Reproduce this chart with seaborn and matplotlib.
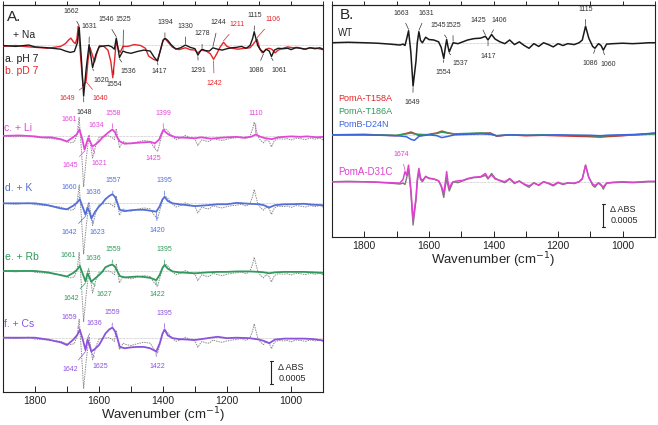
import numpy as np
import pandas as pd
import seaborn as sns
import matplotlib.pyplot as plt
from matplotlib.ticker import MultipleLocator

# ---- data (delta absorbance in units of 1e-4) ----
na_wn = [1900, 1860, 1820, 1800, 1760, 1720, 1705, 1690, 1677, 1668, 1662, 1655, 1648, 1640,
         1631, 1625, 1620, 1610, 1600, 1585, 1570, 1560, 1552, 1546, 1541, 1536, 1530, 1525,
         1515, 1500, 1480, 1460, 1440, 1428, 1417, 1408, 1400, 1394, 1385, 1375, 1360, 1345,
         1330, 1315, 1300, 1291, 1284, 1278, 1268, 1255, 1244, 1230, 1215, 1200, 1185, 1170,
         1155, 1140, 1128, 1120, 1115, 1110, 1104, 1096, 1086, 1078, 1068, 1061, 1052, 1040,
         1025, 1010, 1000, 985, 970, 955, 940, 925, 910, 900]
na_ph7 = [0.0, -0.2, 0.1, -0.3, -0.5, -0.8, -1.2, -1.5, -1.3, 0.5, 4.0, -3.0, -11.0, -5.0,
          0.2, -2.5, -4.8, -2.0, -0.3, -0.1, 0.0, -0.3, -0.8, 1.6, -0.5, -2.6, -1.8, -1.2,
          -1.5, -1.7, -1.3, -1.0, -1.2, -2.5, -3.4, -1.0, 1.0, 1.6, 1.1, 0.2, -0.8, -0.5,
          0.1, -0.4, -0.7, -2.1, -1.3, -0.8, -1.1, -1.2, -0.5, -0.8, -1.0, -0.7, -0.5, -0.4,
          -0.2, -0.6, 0.0, 1.5, 3.0, 1.6, 0.0, -0.9, -1.5, -0.8, -1.2, -2.4, -1.0, -0.6,
          -0.7, -0.6, -0.9, -0.5, -0.6, -0.8, -0.5, -0.7, -0.5, -0.8]

pd_wn = [1900, 1860, 1820, 1800, 1760, 1720, 1705, 1695, 1688, 1680, 1674, 1669, 1665, 1658,
         1650, 1644, 1640, 1634, 1628, 1621, 1614, 1606, 1598, 1585, 1572, 1563, 1557, 1551,
         1546, 1540, 1534, 1525, 1510, 1490, 1470, 1455, 1445, 1430, 1418, 1408, 1400, 1394,
         1385, 1370, 1350, 1330, 1315, 1300, 1291, 1280, 1265, 1252, 1242, 1232, 1222, 1211,
         1200, 1185, 1165, 1145, 1128, 1118, 1106, 1098, 1090, 1080, 1070, 1060, 1050, 1040,
         1025, 1010, 995, 980, 960, 940, 920, 900]
pd_7 = [-0.2, 0.0, -0.3, -0.4, -0.6, -0.2, 0.4, 1.2, 1.6, 0.8, 0.4, 1.5, 4.2, -2.0,
        -8.8, -8.3, -7.6, -3.0, -0.5, -2.0, -3.6, -1.5, 0.0, -0.2, -1.0, -3.5, -7.0, -3.0,
        1.2, -0.8, -1.5, -0.2, -0.2, 0.2, 0.0, -0.6, -2.3, -3.0, -3.3, -1.0, 1.2, 1.5,
        0.8, -0.4, -0.9, -0.5, -0.9, -1.0, -1.6, -1.0, -1.2, -1.8, -3.0, -1.8, -0.4, 0.7,
        -0.2, -0.6, -0.8, -0.6, -0.5, 0.3, 1.4, -0.6, -1.6, -1.0, -0.6, -0.8, -1.6, -1.0,
        -0.6, -0.3, -0.5, -0.4, -0.8, -0.5, -0.6, -0.9]

li_wn = [1900, 1850, 1800, 1780, 1750, 1720, 1700, 1685, 1670, 1661, 1653, 1645, 1640, 1634,
         1628, 1621, 1610, 1600, 1590, 1580, 1570, 1558, 1550, 1543, 1535, 1520, 1500, 1480,
         1460, 1440, 1425, 1412, 1405, 1399, 1390, 1380, 1360, 1330, 1300, 1280, 1250, 1220,
         1200, 1170, 1150, 1125, 1110, 1095, 1080, 1060, 1040, 1000, 970, 950, 920, 900]
li = [0.0, 0.1, -0.1, -0.3, -0.3, -0.7, -1.2, -0.5, 0.3, 1.4, -0.5, -3.0, -1.8, -0.5,
      -1.2, -2.3, -1.8, -1.2, -0.4, 0.2, 0.8, 1.4, 0.8, -0.3, -1.2, -1.7, -1.6, -1.5,
      -1.4, -1.3, -1.6, -0.8, 0.4, 1.3, 0.7, 0.2, -0.3, -0.4, -0.5, -0.3, -0.6, -0.4,
      -0.3, -0.2, -0.4, -0.2, 0.3, -0.2, -0.5, -0.7, -0.3, -0.1, -0.2, -0.1, -0.3, -0.2]

alk_wn = [1900, 1850, 1800, 1760, 1720, 1700, 1680, 1668, 1660, 1651, 1642, 1636, 1630, 1624,
          1612, 1600, 1590, 1580, 1568, 1558, 1550, 1543, 1535, 1520, 1500, 1480, 1460, 1440,
          1421, 1410, 1402, 1395, 1385, 1370, 1350, 1300, 1260, 1230, 1200, 1170, 1130, 1100,
          1085, 1068, 1050, 1020, 1000, 960, 930, 900]
k = [0.0, 0.0, 0.0, -0.4, -1.1, -1.3, -0.5, 0.2, 0.9, -0.8, -2.5, -0.9, -1.8, -3.3,
     -1.8, -0.7, 0.0, 0.9, 1.6, 2.0, 1.4, 0.2, -1.4, -1.7, -1.5, -1.4, -1.4, -1.6,
     -1.8, -0.6, 0.8, 1.4, 0.5, 0.0, -0.2, -0.6, -0.4, -0.2, -0.2, 0.1, -0.1, -0.2,
     -0.4, -0.9, -0.4, -0.2, -0.2, -0.1, -0.3, -0.4]
rb = [0.0, 0.0, 0.0, -0.3, -0.9, -1.2, -0.4, 0.3, 1.1, -0.6, -2.3, -0.5, -1.4, -2.3,
      -1.6, -0.9, -0.2, 0.8, 1.2, 1.4, 0.9, 0.0, -1.1, -1.4, -1.3, -1.2, -1.3, -1.5,
      -2.0, -0.8, 0.6, 1.3, 0.5, -0.1, -0.3, -0.5, -0.3, -0.2, -0.2, -0.1, -0.1, -0.2,
      -0.3, -0.5, -0.3, -0.2, -0.2, -0.2, -0.3, -0.4]
cs = [0.0, 0.0, 0.0, -0.4, -1.0, -1.6, -0.4, 0.6, 1.7, -0.3, -2.7, -0.4, -1.6, -3.0,
      -2.4, -1.6, -0.4, 0.9, 1.8, 2.2, 1.4, 0.0, -2.0, -2.3, -2.1, -2.0, -2.0, -2.3,
      -3.0, -1.2, 0.8, 1.8, 0.5, -0.1, -0.3, -0.5, -0.1, 0.2, -0.1, 0.0, -0.1, -0.4,
      -0.7, -1.2, -0.4, -0.2, -0.2, -0.2, -0.3, -0.6]

b_wn = [1900, 1850, 1800, 1760, 1720, 1690, 1680, 1674, 1669, 1663, 1656, 1649, 1640, 1636,
        1631, 1626, 1620, 1610, 1600, 1585, 1570, 1562, 1554, 1549, 1545, 1541, 1537, 1530,
        1525, 1510, 1495, 1480, 1460, 1440, 1425, 1417, 1406, 1395, 1380, 1365, 1350, 1335,
        1320, 1305, 1290, 1275, 1260, 1245, 1230, 1215, 1200, 1185, 1170, 1150, 1135, 1125,
        1115, 1105, 1093, 1086, 1075, 1067, 1060, 1050, 1030, 1000, 970, 940, 920, 900]
wt = [0.0, 0.1, 0.0, -0.1, -0.3, -0.5, -0.3, -0.6, 0.8, 2.6, -2.0, -9.4, -4.0, 0.0,
      2.4, 0.5, 0.0, 1.2, 0.7, 0.6, 0.2, -1.0, -3.4, -1.0, 0.7, -0.8, -2.0, -0.8,
      0.0, -0.2, 0.2, 0.6, 0.9, 1.0, 1.4, 0.6, 1.8, 0.8, 0.2, -0.2, 0.6, -0.4,
      0.2, -0.6, -1.2, -0.2, -0.8, 0.0, -0.4, -0.9, -0.2, -0.6, -0.2, -0.4, 0.0, 0.6,
      3.6, 1.0, -0.8, -1.2, -0.2, -0.6, -1.6, -0.3, -0.2, -0.1, -0.2, -0.1, 0.0, 0.0]
d31c = [0.0, 0.0, 0.0, -0.1, -0.2, -0.3, 0.5, 2.2, 1.4, 3.6, -1.5, -8.3, -3.5, 0.5,
        2.9, 0.8, 0.3, 1.1, 0.8, 0.6, 0.2, -0.8, -2.5, 0.0, 2.2, 0.0, -1.4, -0.4,
        0.0, 0.2, 0.3, 0.7, 1.0, 1.1, 1.8, 0.8, 1.5, 0.6, 0.3, 0.0, 0.7, -0.2,
        0.1, -0.5, -0.9, -0.3, -0.7, 0.0, -0.3, -0.7, -0.1, -0.5, -0.3, -0.3, 0.0, 0.7,
        3.6, 0.9, -0.5, -0.8, -0.3, -0.8, -1.1, -0.3, -0.1, 0.0, -0.1, 0.0, 0.1, 0.1]

mut_wn = [1900, 1800, 1700, 1670, 1655, 1645, 1630, 1600, 1575, 1560, 1545, 1520, 1480, 1440,
          1410, 1390, 1350, 1300, 1250, 1200, 1150, 1100, 1070, 1050, 1000, 950, 900]
t158a = [0.0, 0.1, -0.2, 0.3, 0.6, 0.3, -0.2, 0.1, 0.4, 0.8, 0.5, 0.1, 0.2, 0.3,
         0.4, -0.3, 0.0, -0.2, -0.1, -0.2, -0.3, -0.4, -0.5, -0.4, -0.2, 0.1, 0.3]
t186a = [0.0, 0.0, -0.1, 0.2, 0.4, 0.2, 0.1, 0.0, 0.3, 0.6, 0.4, 0.2, 0.3, 0.4,
         0.3, -0.2, 0.0, -0.1, 0.0, -0.1, -0.1, -0.2, -0.3, -0.2, -0.1, 0.0, 0.2]
d24n = [0.0, 0.0, -0.2, -0.4, -1.0, -1.2, -0.3, 0.0, -0.2, -0.6, -0.4, 0.0, 0.1, 0.2,
        0.1, -0.2, 0.0, -0.1, -0.1, 0.0, -0.1, -0.1, -0.2, -0.1, 0.0, 0.1, 0.4]

BLACK, RED = "#1a1a1a", "#e3262b"
MAG, BLUE, GREEN, PURPLE = "#e347d8", "#5470d8", "#2f9a5c", "#8c52dc"

sns.set_theme(style="white")
plt.rcParams["font.family"] = ["Liberation Sans", "DejaVu Sans"]


def trace(ax, wn, vals, base, color, lw=1.0, ls="-", z=3):
    df = pd.DataFrame({"wn": wn, "dA": np.asarray(vals) + base})
    sns.lineplot(data=df, x="wn", y="dA", ax=ax, color=color, lw=lw,
                 linestyle=ls, zorder=z, legend=False, errorbar=None)


def label(ax, peak, wn, vals, base, tx, ty, color):
    order = np.argsort(wn)
    yv = base + np.interp(peak, np.asarray(wn)[order], np.asarray(vals)[order])
    yv += 0.3 if ty > 0 else -0.3
    ax.annotate(str(peak), xy=(peak, yv), xytext=(tx, base + ty), ha="center", va="center",
                fontsize=5, color=color, zorder=6,
                arrowprops=dict(arrowstyle="-", color=color, lw=0.5, shrinkA=2.5, shrinkB=0))


def style(ax, top):
    ax.set_xlim(1900, 900)
    ax.set_ylim(0, top)
    ax.set_yticks([])
    ax.xaxis.set_major_locator(MultipleLocator(200))
    ax.xaxis.set_minor_locator(MultipleLocator(100))
    ax.tick_params(axis="x", which="both", direction="in", length=4, width=0.7,
                   bottom=True, labelsize=7.5, pad=3, colors="#222222")
    sec = ax.secondary_xaxis("top")
    sec.xaxis.set_major_locator(MultipleLocator(100))
    sec.tick_params(direction="out", length=3, width=0.7, labeltop=False)
    for s in list(ax.spines.values()) + list(sec.spines.values()):
        s.set_color("#222222")
        s.set_linewidth(0.8)
    ax.set_xlabel("Wavenumber (cm$^{-1}$)", fontsize=9.5, labelpad=-0.5)
    ax.set_ylabel("")


def scale_bar(ax, x, y0):
    ax.plot([x, x], [y0, y0 + 5], color="#222222", lw=0.8)
    for yy in (y0, y0 + 5):
        ax.plot([x - 5, x + 5], [yy, yy], color="#222222", lw=0.8)
    ax.text(x - 22, y0 + 3.7, "Δ ABS", fontsize=6.5, va="center", ha="left")
    ax.text(x - 22, y0 + 1.3, "0.0005", fontsize=6.5, va="center", ha="left")


fig = plt.figure(figsize=(6.58, 4.25), dpi=100)
axA = fig.add_axes([3 / 658, 33 / 425, 320 / 658, 387 / 425])
axB = fig.add_axes([332 / 658, 188 / 425, 323 / 658, 232 / 425])

# ---------------- panel A ----------------
offA = {"na": 75.3, "li": 55.65, "k": 41.0, "rb": 26.3, "cs": 11.8}
for b in offA.values():
    axA.axhline(b, color="#b0b0b0", lw=0.5, ls=(0, (1, 1)), zorder=1)
trace(axA, pd_wn, pd_7, offA["na"], RED, lw=1.0)
trace(axA, na_wn, na_ph7, offA["na"], BLACK, lw=1.0, z=4)
for key, wn, vals, col in [("li", li_wn, li, MAG), ("k", alk_wn, k, BLUE),
                           ("rb", alk_wn, rb, GREEN), ("cs", alk_wn, cs, PURPLE)]:
    trace(axA, na_wn, na_ph7, offA[key], "#8a8a8a", lw=0.7, ls=(0, (1.5, 1)), z=2)
    trace(axA, wn, vals, offA[key], col, lw=1.3, z=4)

na_black = [(1662, 1686, 7.4), (1631, 1630, 4.1), (1546, 1578, 5.6), (1525, 1523, 5.6),
            (1394, 1394, 5.0), (1330, 1330, 4.1), (1278, 1277, 2.5), (1244, 1227, 4.9),
            (1115, 1113, 6.5), (1536, 1508, -5.7), (1620, 1593, -7.5), (1417, 1413, -5.7),
            (1291, 1289, -5.4), (1086, 1108, -5.4), (1061, 1038, -5.4), (1648, 1647, -14.5)]
for p, tx, ty in na_black:
    label(axA, p, na_wn, na_ph7, offA["na"], tx, ty, "#333333")
label(axA, 1554, pd_wn, pd_7, offA["na"], 1552, -8.5, "#333333")
for p, tx, ty in [(1211, 1168, 4.5), (1106, 1057, 5.6), (1242, 1240, -8.2),
                  (1649, 1699, -11.6), (1640, 1596, -11.6)]:
    label(axA, p, pd_wn, pd_7, offA["na"], tx, ty, RED)

li_labels = [(1661, 1692, 3.5), (1634, 1609, 2.2), (1558, 1557, 4.9), (1399, 1400, 4.9),
             (1110, 1110, 4.9), (1425, 1430, -4.8), (1645, 1689, -6.5), (1621, 1599, -5.9)]
k_labels = [(1660, 1692, 3.5), (1636, 1619, 2.3), (1557, 1555, 4.9), (1395, 1395, 4.9),
            (1642, 1692, -6.4), (1623, 1604, -6.4), (1420, 1418, -6.0)]
rb_labels = [(1661, 1697, 3.3), (1636, 1619, 2.8), (1559, 1555, 4.6), (1395, 1395, 4.6),
             (1642, 1686, -5.9), (1627, 1583, -5.2), (1422, 1418, -5.2)]
cs_labels = [(1659, 1692, 4.4), (1636, 1614, 3.0), (1559, 1557, 5.4), (1395, 1395, 5.3),
             (1642, 1689, -6.9), (1625, 1596, -6.3), (1422, 1418, -6.3)]
for p, tx, ty in li_labels:
    label(axA, p, li_wn, li, offA["li"], tx, ty, MAG)
for p, tx, ty in k_labels:
    label(axA, p, alk_wn, k, offA["k"], tx, ty, BLUE)
for p, tx, ty in rb_labels:
    label(axA, p, alk_wn, rb, offA["rb"], tx, ty, GREEN)
for p, tx, ty in cs_labels:
    label(axA, p, alk_wn, cs, offA["cs"], tx, ty, PURPLE)

tA = axA.transAxes
axA.text(0.013, 0.970, "A.", transform=tA, fontsize=11, va="center")
axA.text(0.031, 0.923, "+ Na", transform=tA, fontsize=7.5, va="center")
axA.text(0.006, 0.860, "a. pH 7", transform=tA, fontsize=7.5, va="center", color=BLACK)
axA.text(0.006, 0.830, "b. pD 7", transform=tA, fontsize=7.5, va="center", color=RED)
axA.text(0.004, 0.681, "c. + Li", transform=tA, fontsize=7.5, va="center", color=MAG)
axA.text(0.006, 0.526, "d. + K", transform=tA, fontsize=7.5, va="center", color=BLUE)
axA.text(0.006, 0.348, "e. + Rb", transform=tA, fontsize=7.5, va="center", color=GREEN)
axA.text(0.004, 0.177, "f. + Cs", transform=tA, fontsize=7.5, va="center", color=PURPLE)
scale_bar(axA, 1062, 1.7)
style(axA, 84.1)

# ---------------- panel B ----------------
offB = {"wt": 42.2, "mut": 22.2, "d31c": 12.0}
for b in offB.values():
    axB.axhline(b, color="#b0b0b0", lw=0.5, ls=(0, (1, 1)), zorder=1)
trace(axB, b_wn, wt, offB["wt"], BLACK, lw=1.1)
trace(axB, mut_wn, t158a, offB["mut"], RED, lw=1.1)
trace(axB, mut_wn, t186a, offB["mut"], GREEN, lw=1.1)
trace(axB, mut_wn, d24n, offB["mut"], "#3d64e0", lw=1.1)
trace(axB, b_wn, wt, offB["d31c"], "#7a7a7a", lw=1.0, z=2)
trace(axB, b_wn, d31c, offB["d31c"], "#e040d0", lw=1.1, z=3)

wt_labels = [(1663, 1686, 6.4), (1631, 1608, 6.4), (1545, 1572, 3.8), (1525, 1526, 3.8),
             (1425, 1448, 4.9), (1406, 1381, 4.9), (1115, 1115, 7.3), (1417, 1417, -2.9),
             (1554, 1557, -6.5), (1537, 1502, -4.6), (1649, 1650, -13.0), (1086, 1101, -4.5),
             (1060, 1045, -4.8)]
for p, tx, ty in wt_labels:
    label(axB, p, b_wn, wt, offB["wt"], tx, ty, "#333333")
label(axB, 1674, b_wn, d31c, offB["d31c"], 1686, 6.0, "#e040d0")

tB = axB.transAxes
axB.text(0.025, 0.957, "B.", transform=tB, fontsize=11, va="center")
axB.text(0.019, 0.878, "WT", transform=tB, fontsize=7, va="center")
axB.text(0.019, 0.598, "PomA-T158A", transform=tB, fontsize=6.5, va="center", color=RED)
axB.text(0.019, 0.540, "PomA-T186A", transform=tB, fontsize=6.5, va="center", color=GREEN)
axB.text(0.019, 0.487, "PomB-D24N", transform=tB, fontsize=6.5, va="center", color="#3d64e0")
axB.text(0.019, 0.281, "PomA-D31C", transform=tB, fontsize=7, va="center", color="#e040d0")
scale_bar(axB, 1060, 2.2)
style(axB, 50.4)

fig.savefig("out.png", dpi=100)
